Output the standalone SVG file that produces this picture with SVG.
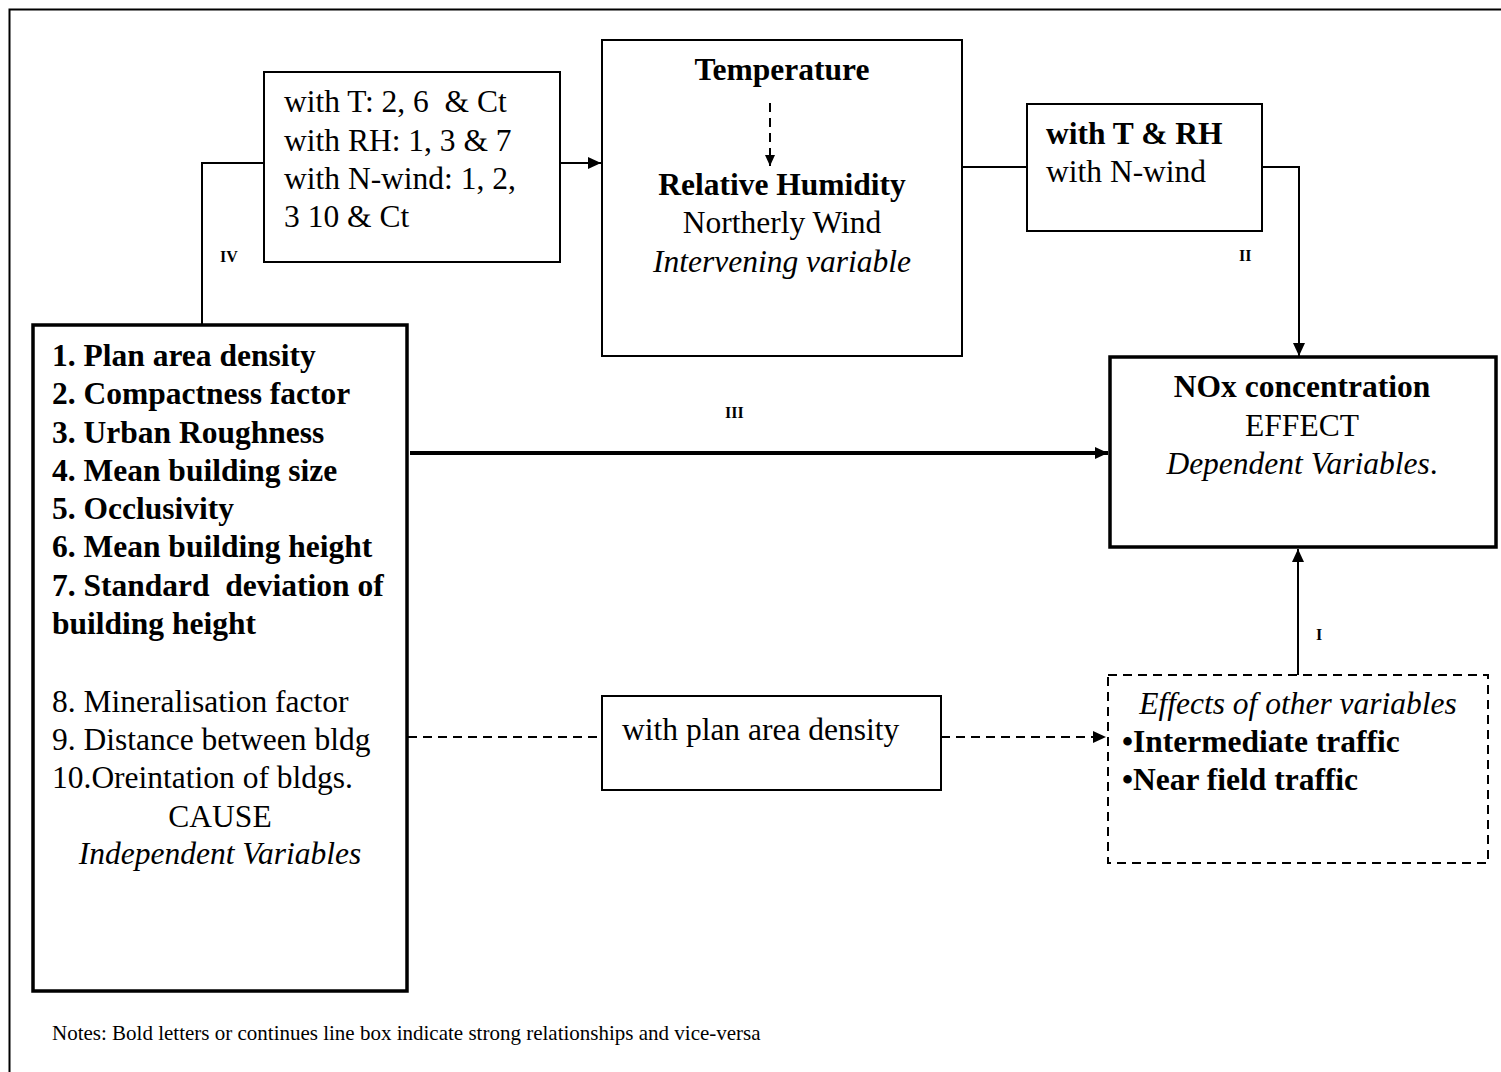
<svg xmlns="http://www.w3.org/2000/svg" width="1501" height="1072" viewBox="0 0 1501 1072">
<style>
text{font-family:"Liberation Serif","Times New Roman",serif;fill:#000;font-size:31.5px}
.b{font-weight:bold}
.i{font-style:italic}
.m{text-anchor:middle}
.lab{font-weight:bold;font-size:16px}
.box{fill:#fff;stroke:#000;stroke-width:2}
.thick{fill:#fff;stroke:#000;stroke-width:3.5}
.dbox{fill:#fff;stroke:#000;stroke-width:2;stroke-dasharray:9 6}
.c{fill:none;stroke:#000;stroke-width:2}
.cd{fill:none;stroke:#000;stroke-width:2;stroke-dasharray:9 6}
</style>
<defs>
<marker id="ah" markerUnits="userSpaceOnUse" markerWidth="14" markerHeight="12" refX="13" refY="6" orient="auto">
<path d="M0,0 L13,6 L0,12 z" fill="#000"/>
</marker>
<marker id="ahs" markerUnits="userSpaceOnUse" markerWidth="12" markerHeight="10" refX="11" refY="5" orient="auto">
<path d="M0,0 L11,5 L0,10 z" fill="#000"/>
</marker>
</defs>
<rect x="0" y="0" width="1501" height="1072" fill="#fff"/>
<rect id="frame" x="9.5" y="9.5" width="1500" height="1070" fill="none" stroke="#000" stroke-width="2"/>

<g id="connectors">
<polyline class="c" points="202,325 202,163 264,163"/>
<line class="c" x1="560" y1="163" x2="601" y2="163" marker-end="url(#ah)"/>
<line class="c" x1="962" y1="167" x2="1027" y2="167"/>
<polyline class="c" points="1262,167 1299,167 1299,356" marker-end="url(#ah)"/>
<line x1="410" y1="453" x2="1108" y2="453" stroke="#000" stroke-width="4" marker-end="url(#ah)"/>
<line class="c" x1="1298" y1="675" x2="1298" y2="549" marker-end="url(#ah)"/>
<line class="cd" x1="408" y1="737" x2="602" y2="737"/>
<line class="cd" x1="941" y1="737" x2="1106" y2="737" marker-end="url(#ah)"/>
<text class="lab" x="220" y="262">IV</text>
<text class="lab" x="1239" y="261">II</text>
<text class="lab" x="725" y="418">III</text>
<text class="lab" x="1316" y="640">I</text>
</g>

<g id="node-links">
<rect class="box" x="264" y="72" width="296" height="190"/>
<text x="284" y="112" xml:space="preserve">with T: 2, 6  &amp; Ct</text>
<text x="284" y="151">with RH: 1, 3 &amp; 7</text>
<text x="284" y="189">with N-wind: 1, 2,</text>
<text x="284" y="227">3 10 &amp; Ct</text>
</g>

<g id="node-intervening">
<rect class="box" x="602" y="40" width="360" height="316"/>
<text class="b m" x="782" y="80">Temperature</text>
<line class="cd" x1="770" y1="103" x2="770" y2="166" stroke-dasharray="8 6" marker-end="url(#ahs)"/>
<text class="b m" x="782" y="195">Relative Humidity</text>
<text class="m" x="782" y="233">Northerly Wind</text>
<text class="i m" x="782" y="272">Intervening variable</text>
</g>

<g id="node-trh">
<rect class="box" x="1027" y="104" width="235" height="127"/>
<text class="b" x="1046" y="144">with T &amp; RH</text>
<text x="1046" y="182">with N-wind</text>
</g>

<g id="node-nox">
<rect class="thick" x="1110" y="357" width="386" height="190"/>
<text class="b m" x="1302" y="397">NOx concentration</text>
<text class="m" x="1302" y="436">EFFECT</text>
<text class="m" x="1302" y="474"><tspan class="i">Dependent Variables</tspan>.</text>
</g>

<g id="node-cause">
<rect class="thick" x="33" y="325" width="374" height="666"/>
<text class="b" x="52" y="366">1. Plan area density</text>
<text class="b" x="52" y="404">2. Compactness factor</text>
<text class="b" x="52" y="443">3. Urban Roughness</text>
<text class="b" x="52" y="481">4. Mean building size</text>
<text class="b" x="52" y="519">5. Occlusivity</text>
<text class="b" x="52" y="557">6. Mean building height</text>
<text class="b" x="52" y="596" xml:space="preserve">7. Standard  deviation of</text>
<text class="b" x="52" y="634">building height</text>
<text x="52" y="712">8. Mineralisation factor</text>
<text x="52" y="750">9. Distance between bldg</text>
<text x="52" y="788">10.Oreintation of bldgs.</text>
<text class="m" x="220" y="827">CAUSE</text>
<text class="i m" x="220" y="864">Independent Variables</text>
</g>

<g id="node-plan">
<rect class="box" x="602" y="696" width="339" height="94"/>
<text x="622" y="740">with plan area density</text>
</g>

<g id="node-other">
<rect class="dbox" x="1108" y="675" width="380" height="188"/>
<text class="i m" x="1298" y="714">Effects of other variables</text>
<text class="b" x="1122" y="752">•Intermediate traffic</text>
<text class="b" x="1122" y="790">•Near field traffic</text>
</g>

<text x="52" y="1040" style="font-size:21px">Notes: Bold letters or continues line box indicate strong relationships and vice-versa</text>
</svg>
